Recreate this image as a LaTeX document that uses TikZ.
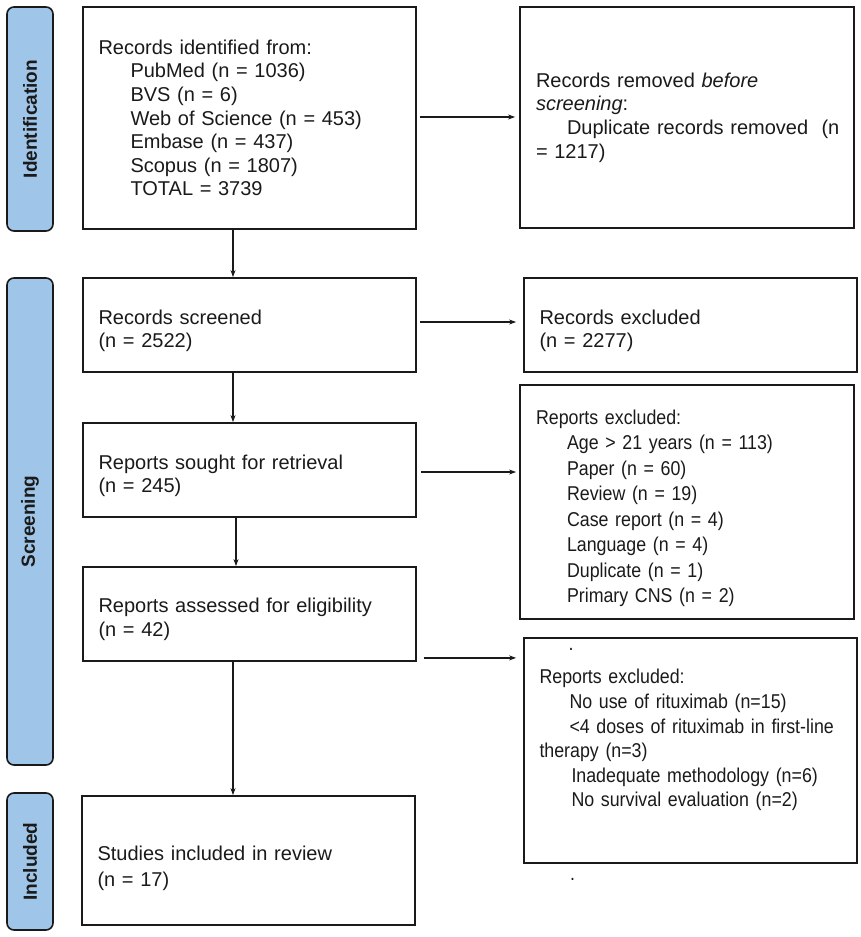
\documentclass[tikz,border=0pt]{standalone}
\usepackage{fontspec}
\setmainfont{Liberation Sans}
\newfontfamily\narrowfont{Liberation Sans}[FakeStretch=0.89]
\usetikzlibrary{arrows.meta,calc}
\definecolor{barblue}{RGB}{159,197,232}
\definecolor{ink}{RGB}{26,26,26}
\newcommand{\topgap}[1]{\par\vspace*{#1}}
\begin{document}
\begin{tikzpicture}[x=1pt,y=-1pt,
  box/.style={draw=ink, line width=1.8pt, inner xsep=15.5pt, inner ysep=0pt, align=left,
    text width=302pt, minimum width=333pt, font=\fontsize{20}{23.6}\selectfont, text=ink},
  nbox/.style={box, font=\narrowfont\fontsize{20}{25.5}\selectfont},
  bar/.style={draw=ink, fill=barblue, line width=1.6pt, rounded corners=7pt, rotate=90,
    minimum height=46pt, inner sep=0pt, font=\fontsize{19}{22}\selectfont\bfseries, text=ink},
  arr/.style={draw=ink, line width=1.2pt, -{Stealth[length=7pt,width=5pt]}},
  dotlbl/.style={anchor=base west, inner sep=0pt, font=\narrowfont\fontsize{20}{24}\selectfont, text=ink}]
\useasboundingbox (0,0) rectangle (861,937);

% side bars
\node[bar, minimum width=224pt] (sIdent) at (30,119) {Identification};
\node[bar, minimum width=487pt] (sScreen) at (30,521.5) {Screening};
\node[bar, minimum width=137pt] (sIncl) at (30,861.5) {Included};

% left column
\node[box, minimum height=222pt] (ident) at (249.5,118) {Records identified from:\\
\hspace*{32pt}PubMed (n = 1036)\\
\hspace*{32pt}BVS (n = 6)\\
\hspace*{32pt}Web of Science (n = 453)\\
\hspace*{32pt}Embase (n = 437)\\
\hspace*{32pt}Scopus (n = 1807)\\
\hspace*{32pt}TOTAL = 3739};

\node[box, minimum height=94pt] (screened) at (249.5,325) {\topgap{2.5pt}Records screened\\(n = 2522)};
\node[box, minimum height=94pt] (sought) at (249.5,470) {\topgap{2.5pt}Reports sought for retrieval\\(n = 245)};
\node[box, minimum height=94pt] (assessed) at (249.5,614) {\topgap{1.5pt}Reports assessed for eligibility\\(n = 42)};
\node[box, minimum height=129pt, font=\fontsize{20}{25.5}\selectfont] (studies) at (248.5,860.5) {\topgap{4.5pt}Studies included in review\\(n = 17)};

% right column
\node[box, minimum width=334pt, minimum height=221pt] (removed) at (687,117.5) {Records removed \textit{before}\\
\textit{screening}:\\
\hspace*{31pt}\mbox{Duplicate records removed~ (n}\\
= 1217)};

\node[box, minimum height=94pt] (recexcl) at (690.5,325) {\topgap{2.5pt}Records excluded\\(n = 2277)};

\node[nbox, minimum width=334pt, minimum height=234pt] (repexcl) at (687,502) {\topgap{1.5pt}Reports excluded:\\
\hspace*{31pt}Age > 21 years (n = 113)\\
\hspace*{31pt}Paper (n = 60)\\
\hspace*{31pt}Review (n = 19)\\
\hspace*{31pt}Case report (n = 4)\\
\hspace*{31pt}Language (n = 4)\\
\hspace*{31pt}Duplicate (n = 1)\\
\hspace*{31pt}Primary CNS (n = 2)};

\node[nbox, minimum height=225pt, font=\narrowfont\fontsize{20}{24.6}\selectfont] (elig) at (690.5,750.5) {Reports excluded:\\
\hspace*{30pt}No use of rituximab (n=15)\\
\hspace*{30pt}\mbox{<4 doses of rituximab in first-line}\\
therapy (n=3)\\
\hspace*{32pt}Inadequate methodology (n=6)\\
\hspace*{32pt}No survival evaluation (n=2)\\
\mbox{}};

\node[dotlbl] (dotA) at (568.5,650) {.};
\node[dotlbl] (dotB) at (570,880) {.};

% connectors
\coordinate (vx) at (233,0);
\draw[arr] (ident.south -| vx) -- (screened.north -| vx);
\draw[arr] (screened.south -| vx) -- (sought.north -| vx);
\draw[arr] ([xshift=3pt]sought.south -| vx) -- ([xshift=3pt]assessed.north -| vx);
\draw[arr] (assessed.south -| vx) -- (studies.north -| vx);

\coordinate (h1) at ([xshift=3pt,yshift=1pt]ident.east);
\coordinate (h2) at ([xshift=3pt,yshift=3pt]screened.east);
\coordinate (h3) at ([xshift=4pt,yshift=-2pt]sought.east);
\coordinate (h4) at ([xshift=7pt,yshift=4pt]assessed.south east);
\draw[arr, shorten >=4pt] (h1) -- (h1 -| removed.west);
\draw[arr, shorten >=7pt] (h2) -- (h2 -| recexcl.west);
\draw[arr, shorten >=3pt] (h3) -- (h3 -| repexcl.west);
\draw[arr, shorten >=7pt] (h4) -- (h4 -| elig.west);
\end{tikzpicture}
\end{document}
